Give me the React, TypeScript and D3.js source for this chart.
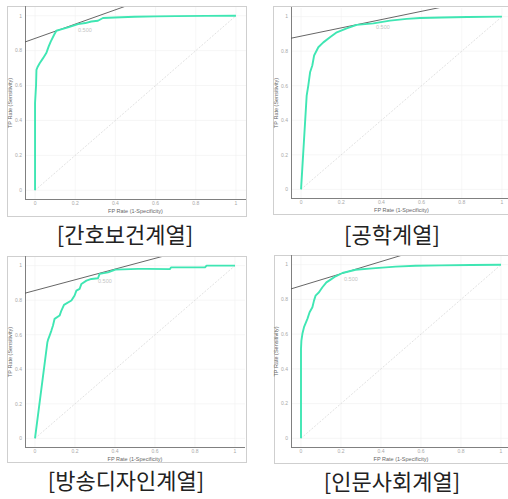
import React from "react";
import * as d3 from "d3";

// ---- data ----
const categories = ["[간호보건계열]", "[공학계열]", "[방송디자인계열]", "[인문사회계열]"];
const tickLabels = ["0", "0.2", "0.4", "0.6", "0.8", "1"];
const tickValues = [0, 0.2, 0.4, 0.6, 0.8, 1];
const xAxisTitle = "FP Rate (1-Specificity)";
const yAxisTitle = "TP Rate (Sensitivity)";
const thresholdLabel = "0.500";

const nursingFpr = [0, 0, 0.003, 0.005, 0.007, 0.012, 0.023, 0.04, 0.056, 0.068, 0.078, 0.095, 0.106, 0.13, 0.164, 0.214, 0.25, 0.28, 0.313, 0.338, 0.396, 0.496, 0.6, 0.7, 0.85, 1];
const nursingTpr = [0, 0.5, 0.56, 0.6, 0.69, 0.705, 0.728, 0.757, 0.786, 0.824, 0.852, 0.891, 0.914, 0.922, 0.933, 0.952, 0.958, 0.967, 0.971, 0.987, 0.99, 0.994, 0.996, 0.998, 0.999, 1];

const engFpr = [0, 0.028, 0.036, 0.045, 0.056, 0.065, 0.086, 0.111, 0.144, 0.178, 0.227, 0.277, 0.36, 0.443, 0.526, 0.592, 0.7, 0.827, 1];
const engTpr = [0, 0.543, 0.601, 0.678, 0.717, 0.775, 0.823, 0.851, 0.88, 0.909, 0.932, 0.952, 0.961, 0.977, 0.987, 0.992, 0.995, 0.998, 1];

const designFpr = [0, 0.062, 0.065, 0.073, 0.082, 0.09, 0.098, 0.123, 0.132, 0.145, 0.182, 0.198, 0.207, 0.223, 0.232, 0.257, 0.282, 0.315, 0.323, 0.365, 0.402, 0.515, 0.558, 0.675, 0.68, 0.85, 0.858, 1];
const designTpr = [0, 0.557, 0.57, 0.595, 0.624, 0.653, 0.692, 0.711, 0.74, 0.773, 0.798, 0.827, 0.855, 0.865, 0.894, 0.913, 0.923, 0.927, 0.952, 0.961, 0.977, 0.981, 0.981, 0.98, 0.99, 0.99, 1, 1];

const humanFpr = [0, 0, 0.002, 0.007, 0.015, 0.032, 0.043, 0.057, 0.065, 0.073, 0.09, 0.107, 0.127, 0.148, 0.173, 0.207, 0.273, 0.357, 0.473, 0.573, 0.7, 0.85, 1];
const humanTpr = [0, 0.515, 0.563, 0.602, 0.64, 0.688, 0.726, 0.755, 0.793, 0.822, 0.841, 0.87, 0.898, 0.914, 0.933, 0.952, 0.971, 0.979, 0.989, 0.994, 0.996, 0.998, 1];

const seriesFpr = [nursingFpr, engFpr, designFpr, humanFpr];
const seriesTpr = [nursingTpr, engTpr, designTpr, humanTpr];

// tangent (iso-performance) line at threshold 0.5: y = intercept + slope * x
const tangentIntercepts = [0.87, 0.887, 0.856, 0.878];
const tangentSlopes = [0.41, 0.24, 0.31, 0.35];
// location of the "0.500" threshold label
const thresholdX = [0.214, 0.373, 0.315, 0.215];
const thresholdY = [0.92, 0.938, 0.913, 0.918];

// ---- layout ----
const panels = [
  { frame: [7, 6, 239, 210], plot: [25, 246, 7, 199], title: [125, 243] },
  { frame: [273, 6, 240, 208], plot: [291, 512, 8, 198], title: [392, 243] },
  { frame: [7, 256, 239, 206], plot: [25, 245, 257, 447], title: [126, 489] },
  { frame: [274, 255, 240, 208], plot: [291, 511, 256, 447], title: [392, 490] },
];

const CURVE = "#3fe6b3";
const SMALL_FONT = "'Liberation Sans', Arial, sans-serif";

function Panel({ i }: { i: number }) {
  const p = panels[i];
  const [l, r, t, b] = p.plot;
  const x = d3.scaleLinear().domain([-0.05, 1.05]).range([l, r]);
  const y = d3.scaleLinear().domain([-0.05, 1.05]).range([b, t]);
  const pts: [number, number][] = seriesFpr[i].map((f, k) => [f, seriesTpr[i][k]]);
  const line = d3
    .line<[number, number]>()
    .x((d) => x(d[0]))
    .y((d) => y(d[1]));
  const clipId = `clip${i}`;
  const tx0 = -0.05;
  const tx1 = 1.05;
  const tangent: [number, number][] = [
    [tx0, tangentIntercepts[i] + tangentSlopes[i] * tx0],
    [tx1, tangentIntercepts[i] + tangentSlopes[i] * tx1],
  ];
  return (
    <g>
      <defs>
        <clipPath id={clipId}>
          <rect x={l} y={t} width={r - l} height={b - t} />
        </clipPath>
      </defs>
      <rect x={p.frame[0] + 0.5} y={p.frame[1] + 0.5} width={p.frame[2]} height={p.frame[3]} fill="#fff" stroke="#cfcfcf" strokeWidth={1} />
      {/* grid */}
      {tickValues.map((v, k) => (
        <g key={k}>
          <line x1={x(v)} x2={x(v)} y1={t} y2={b} stroke="#f0f0f0" strokeWidth={0.6} />
          <line x1={l} x2={r} y1={y(v)} y2={y(v)} stroke="#f0f0f0" strokeWidth={0.6} />
        </g>
      ))}
      {/* diagonal */}
      <line x1={x(0)} y1={y(0)} x2={x(1)} y2={y(1)} stroke="#d4d4d4" strokeWidth={0.7} strokeDasharray="2,1.5" />
      {/* axes */}
      <line x1={l + 0.5} x2={l + 0.5} y1={t - 1} y2={b} stroke="#808080" strokeWidth={1} />
      <line x1={l} x2={r} y1={b + 0.5} y2={b + 0.5} stroke="#808080" strokeWidth={1} />
      {/* tick labels */}
      {tickValues.map((v, k) => (
        <text key={"x" + k} x={x(v)} y={b + 5.5} fontSize={5} fill="#a8a8a8" textAnchor="middle" fontFamily={SMALL_FONT}>
          {tickLabels[k]}
        </text>
      ))}
      {tickValues.map((v, k) => (
        <text key={"y" + k} x={l - 3} y={y(v) + 1.8} fontSize={5} fill="#a8a8a8" textAnchor="end" fontFamily={SMALL_FONT}>
          {tickLabels[k]}
        </text>
      ))}
      <text x={(x(0) + x(1)) / 2} y={b + 14} fontSize={5.5} fill="#666" textAnchor="middle" fontFamily={SMALL_FONT}>
        {xAxisTitle}
      </text>
      <text
        transform={`translate(${l - 13},${(y(0) + y(1)) / 2}) rotate(-90)`}
        fontSize={5.5}
        fill="#666"
        textAnchor="middle"
        fontFamily={SMALL_FONT}
      >
        {yAxisTitle}
      </text>
      {/* curve + tangent */}
      <g clipPath={`url(#${clipId})`}>
        <path d={line(tangent) || ""} fill="none" stroke="#555" strokeWidth={0.9} />
        <path d={line(pts) || ""} fill="none" stroke={CURVE} strokeWidth={1.9} strokeLinejoin="round" />
      </g>
      <text x={x(thresholdX[i])} y={y(thresholdY[i]) + 2} fontSize={5.5} fill="#c4c4c4" fontFamily={SMALL_FONT}>
        {thresholdLabel}
      </text>
      {/* title */}
      <text
        x={p.title[0]}
        y={p.title[1]}
        fontSize={22}
        fill="#222"
        textAnchor="middle"
        fontFamily="'Noto Sans CJK KR', 'Noto Sans', sans-serif"
      >
        {categories[i]}
      </text>
    </g>
  );
}

export default function App() {
  return (
    <svg
      width={508}
      height={499}
      viewBox="0 0 508 499"
      style={{ position: "absolute", left: 0, top: 0, background: "#fff" }}
    >
      <rect x={0} y={0} width={508} height={499} fill="#fff" />
      {panels.map((_, i) => (
        <Panel key={i} i={i} />
      ))}
    </svg>
  );
}
